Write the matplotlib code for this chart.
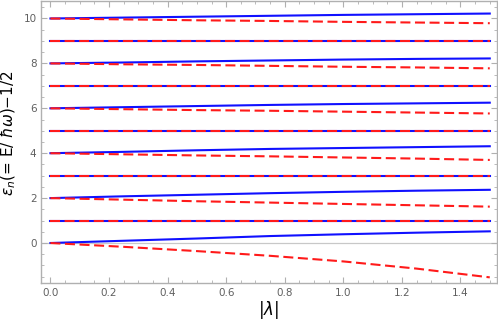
import numpy as np
import matplotlib.pyplot as plt

lam = [0.0, 0.25, 0.5, 0.75, 1.0, 1.25, 1.5]

# upper branch (blue solid) and lower branch (red dashed) for even n
blue0 = [0, 0.10, 0.20, 0.31, 0.39, 0.46, 0.52]
red0 = [0, -0.17, -0.36, -0.57, -0.82, -1.14, -1.53]
blue2 = [2, 2.08, 2.15, 2.22, 2.28, 2.33, 2.37]
red2 = [2, 1.93, 1.86, 1.80, 1.74, 1.68, 1.62]
blue4 = [4, 4.06, 4.13, 4.19, 4.23, 4.27, 4.31]
red4 = [4, 3.95, 3.90, 3.86, 3.81, 3.76, 3.70]
blue6 = [6, 6.05, 6.10, 6.15, 6.19, 6.22, 6.25]
red6 = [6, 5.96, 5.92, 5.89, 5.85, 5.81, 5.77]
blue8 = [8, 8.04, 8.09, 8.13, 8.17, 8.20, 8.22]
red8 = [8, 7.96, 7.93, 7.89, 7.85, 7.82, 7.78]
blue10 = [10, 10.04, 10.08, 10.12, 10.16, 10.19, 10.22]
red10 = [10, 9.96, 9.92, 9.89, 9.85, 9.82, 9.79]
# odd n stay flat for both branches
odd_levels = [1, 3, 5, 7, 9]

blues = [blue0, blue2, blue4, blue6, blue8, blue10]
reds = [red0, red2, red4, red6, red8, red10]

fig = plt.figure(figsize=(4.98, 3.25), dpi=100)
ax = fig.add_axes([0.083, 0.130, 0.914, 0.867])

gray = '#b0b0b0'
ax.axhline(0, color='#c8c8c8', lw=0.9, zorder=1)

for b in blues:
    ax.plot(lam, b, color='#1010ff', lw=1.5, zorder=2)
for n in odd_levels:
    ax.plot(lam, [n] * len(lam), color='#1010ff', lw=1.5, zorder=2)
dash = (0, (4.8, 2.2))
for r in reds:
    ax.plot(lam, r, color='#ff1a1a', lw=1.5, ls=dash, zorder=3)
for n in odd_levels:
    ax.plot(lam, [n] * len(lam), color='#ff1a1a', lw=1.5, ls=dash, zorder=3)

ax.set_xlim(-0.031, 1.523)
ax.set_ylim(-1.77, 10.78)
ax.set_xticks(np.arange(0, 1.41, 0.2))
ax.set_xticklabels(['0.0', '0.2', '0.4', '0.6', '0.8', '1.0', '1.2', '1.4'])
ax.set_xticks(np.arange(0, 1.51, 0.05), minor=True)
ax.set_yticks(range(0, 11, 2))
ax.set_yticks(np.arange(-1.5, 10.6, 0.5), minor=True)

for s in ax.spines.values():
    s.set_color(gray)
    s.set_linewidth(1.0)
ax.tick_params(which='both', direction='in', top=True, right=True,
               color=gray, labelcolor='#606060', labelsize=7.5)
ax.tick_params(which='major', length=4, width=0.8)
ax.tick_params(which='minor', length=2, width=0.6)

ax.set_xlabel(r'$|\lambda|$', fontsize=12, labelpad=1)
ax.set_ylabel(r'$\epsilon_n$(= E/ $\hbar\omega$)$-$1/2', fontsize=11)
ax.yaxis.set_label_coords(-0.052, 0.53)

fig.savefig('out.png', dpi=100)
